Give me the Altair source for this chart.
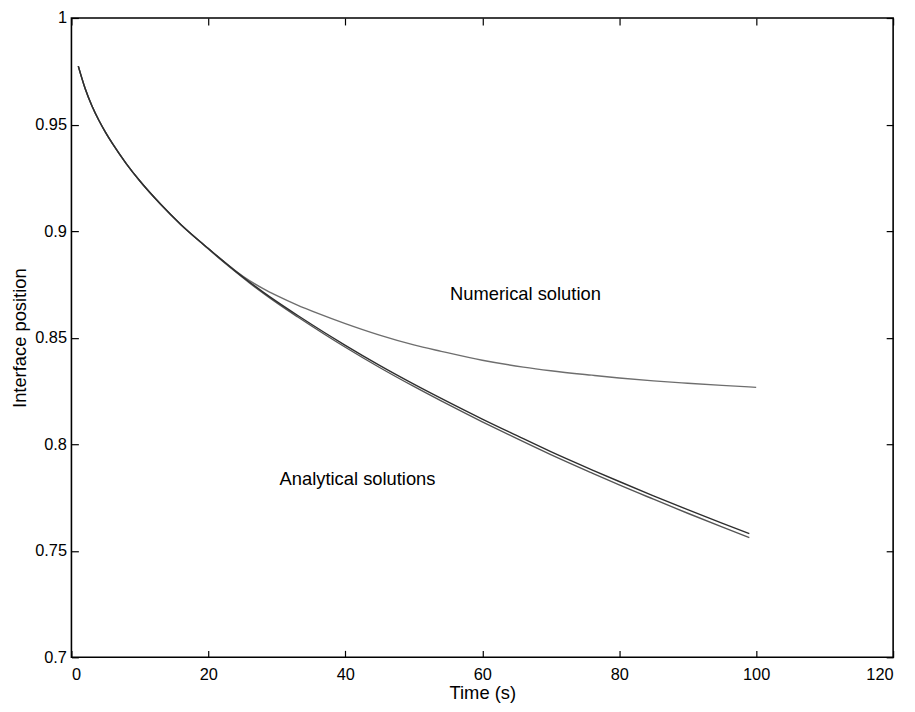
import altair as alt
import pandas as pd

# ---- data ----
t_analytical = [1, 2, 3, 4, 5, 6, 8, 10, 13, 16, 19, 20, 22, 24, 26, 28, 30, 33, 37, 40,
                45, 50, 54, 60, 65, 70, 76, 80, 85, 90, 95, 99]
analytical_1 = [0.9774, 0.9669, 0.9587, 0.9520, 0.9462, 0.9410, 0.9317, 0.9235, 0.9127, 0.9030,
                0.8945, 0.8918, 0.8864, 0.8811, 0.8761, 0.8714, 0.8669, 0.8605, 0.8523, 0.8464,
                0.8370, 0.8282, 0.8215, 0.8118, 0.8041, 0.7965, 0.7880, 0.7825, 0.7758, 0.7693,
                0.7630, 0.7580]
analytical_2 = [0.9774, 0.9669, 0.9587, 0.9520, 0.9462, 0.9410, 0.9317, 0.9235, 0.9127, 0.9030,
                0.8944, 0.8916, 0.8861, 0.8808, 0.8757, 0.8709, 0.8663, 0.8598, 0.8515, 0.8455,
                0.8360, 0.8271, 0.8203, 0.8105, 0.8027, 0.7951, 0.7865, 0.7809, 0.7742, 0.7676,
                0.7612, 0.7562]
t_numerical = [1, 2, 3, 4, 5, 6, 8, 10, 13, 16, 19, 20, 22, 24, 26, 28, 30, 33, 36, 40,
               45, 50, 54, 60, 66, 70, 76, 80, 85, 90, 95, 100]
numerical = [0.9774, 0.9669, 0.9587, 0.9520, 0.9462, 0.9410, 0.9317, 0.9235, 0.9127, 0.9030,
             0.8945, 0.8918, 0.8864, 0.8813, 0.8768, 0.8730, 0.8697, 0.8653, 0.8614, 0.8566,
             0.8512, 0.8466, 0.8436, 0.8394, 0.8362, 0.8345, 0.8324, 0.8311, 0.8297, 0.8286,
             0.8276, 0.8267]

label_text = ["Numerical solution", "Analytical solutions"]
label_t = [55.3, 30.4]
label_v = [0.8705, 0.7835]

x_ticks = [0, 20, 40, 60, 80, 100, 120]
y_ticks = [0.7, 0.75, 0.8, 0.85, 0.9, 0.95, 1.0]

series_names = ["Numerical", "Analytical 2", "Analytical 1"]
series_colors = ["#6e6e6e", "#555555", "#2e2e2e"]

rows = []
for t, v in zip(t_numerical, numerical):
    rows.append({"t": t, "v": v, "series": "Numerical", "order": 0})
for t, v in zip(t_analytical, analytical_2):
    rows.append({"t": t, "v": v, "series": "Analytical 2", "order": 1})
for t, v in zip(t_analytical, analytical_1):
    rows.append({"t": t, "v": v, "series": "Analytical 1", "order": 2})
df = pd.DataFrame(rows)

labels = pd.DataFrame({"t": label_t, "v": label_v, "text": label_text})

FONT = "Liberation Sans"

xscale = alt.Scale(domain=[0, 120], nice=False, zero=False)
yscale = alt.Scale(domain=[0.7, 1.0], nice=False, zero=False)

lines = alt.Chart(df).mark_line(strokeWidth=1.4, interpolate="monotone").encode(
    x=alt.X("t:Q", scale=xscale,
            axis=alt.Axis(orient="bottom", values=x_ticks,
                          title="Time (s)", offset=-7, tickSize=7, labelPadding=9,
                          titlePadding=1, domain=False, grid=False, format="~r")),
    y=alt.Y("v:Q", scale=yscale,
            axis=alt.Axis(orient="left", values=y_ticks,
                          title="Interface position", offset=-7, tickSize=7, labelPadding=5,
                          titlePadding=5, domain=False, grid=False, format="~r")),
    color=alt.Color("series:N", scale=alt.Scale(domain=series_names, range=series_colors),
                    legend=None),
    order=alt.Order("order:Q"),
)

texts = alt.Chart(labels).mark_text(
    align="left", baseline="middle", font=FONT, fontSize=18.5, color="black"
).encode(
    x=alt.X("t:Q", scale=xscale,
            axis=alt.Axis(orient="top", values=x_ticks, labels=False,
                          title=None, offset=-7, tickSize=7, domain=False, grid=False)),
    y=alt.Y("v:Q", scale=yscale,
            axis=alt.Axis(orient="right", values=y_ticks,
                          labels=False, title=None, offset=-7, tickSize=7, domain=False,
                          grid=False)),
    text="text:N",
)

chart = alt.layer(lines, texts).properties(
    width=829,
    height=645,
    autosize=alt.AutoSizeParams(type="none"),
    padding={"left": 64, "top": 7, "right": 14, "bottom": 45},
    background="white",
).configure_view(
    stroke="black", strokeWidth=1.6
).configure_axis(
    labelFont=FONT, labelFontSize=16.5, labelColor="black",
    titleFont=FONT, titleFontSize=18.5, titleFontWeight="normal", titleColor="black",
    tickColor="black", tickWidth=1.2,
)

chart.save("out.html", embed_options={"renderer": "svg", "actions": False})
